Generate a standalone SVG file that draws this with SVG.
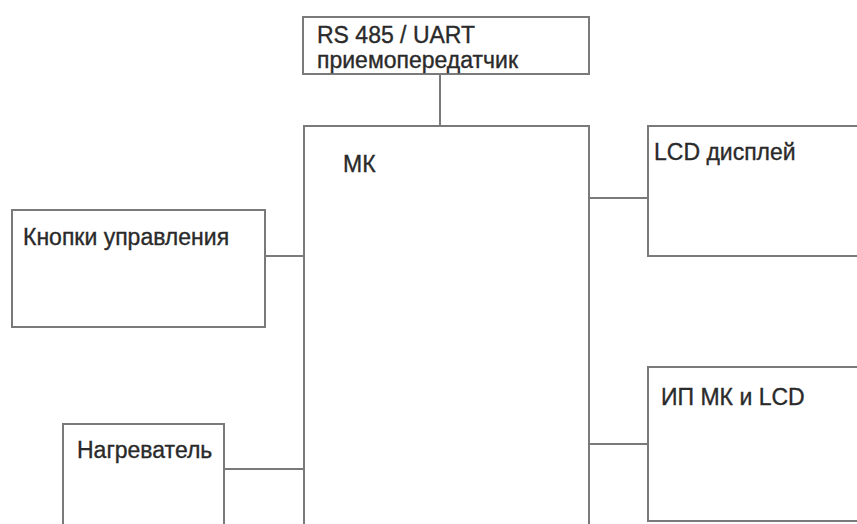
<svg xmlns="http://www.w3.org/2000/svg" width="857" height="524" viewBox="0 0 857 524">
<style>
.box{fill:#fff;stroke:#7a7a7a;stroke-width:2}
.ln{stroke:#7a7a7a;stroke-width:2;fill:none}
.t{font-family:"Liberation Sans",Arial,sans-serif;font-size:23px;fill:#2a2a2a;stroke:#2a2a2a;stroke-width:0.35}
</style>
<rect width="857" height="524" fill="#fff"/>
<g id="connectors">
<line class="ln" x1="440" y1="74" x2="440" y2="126"/>
<line class="ln" x1="589" y1="198" x2="648" y2="198"/>
<line class="ln" x1="265" y1="256" x2="304" y2="256"/>
<line class="ln" x1="589" y1="444" x2="648" y2="444"/>
<line class="ln" x1="224" y1="469" x2="304" y2="469"/>
</g>
<g id="rs485">
<rect class="box" x="303" y="17" width="286" height="57"/>
<text class="t" x="317" y="43">RS 485 / UART</text>
<text class="t" x="317" y="68">приемопередатчик</text>
</g>
<g id="mk">
<rect class="box" x="304" y="126" width="285" height="420"/>
<text class="t" x="343" y="172">МК</text>
</g>
<g id="lcd">
<rect class="box" x="648" y="126" width="230" height="130"/>
<text class="t" x="654" y="160">LCD дисплей</text>
</g>
<g id="buttons">
<rect class="box" x="12" y="210" width="253" height="117"/>
<text class="t" x="23" y="245">Кнопки управления</text>
</g>
<g id="power">
<rect class="box" x="648" y="367" width="230" height="154"/>
<text class="t" x="661" y="405">ИП МК и LCD</text>
</g>
<g id="heater">
<rect class="box" x="63" y="424" width="161" height="130"/>
<text class="t" x="77" y="458">Нагреватель</text>
</g>
</svg>
